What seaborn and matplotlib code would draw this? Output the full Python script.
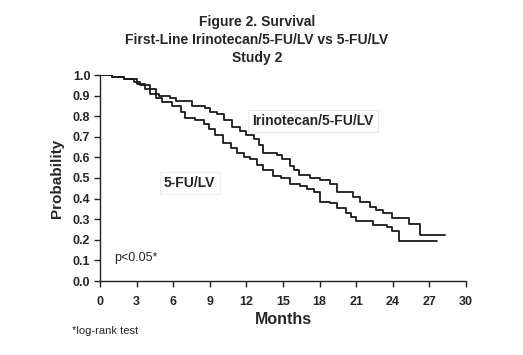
import matplotlib
matplotlib.use("Agg")
import matplotlib.pyplot as plt
import seaborn as sns
import pandas as pd

# ---- data ----
iri_months = [0, 1.0, 2.0, 2.8, 3.3, 4.1, 4.8, 5.7, 6.2, 7.5, 8.6, 9.0, 9.6, 10.2, 10.8, 11.5, 12.0, 12.6, 13.0, 13.4,
              14.5, 14.9, 15.6, 15.9, 16.3, 17.2, 18.0, 18.85, 19.4, 20.7, 21.3, 22.1, 22.6, 23.2, 23.9, 25.3, 26.2, 28.3]
iri_surv = [1.0, 0.99, 0.98, 0.965, 0.95, 0.91, 0.90, 0.89, 0.875, 0.85, 0.84, 0.82, 0.81, 0.78, 0.75, 0.73, 0.71, 0.69, 0.66, 0.62,
            0.61, 0.59, 0.56, 0.54, 0.515, 0.50, 0.49, 0.47, 0.43, 0.41, 0.385, 0.36, 0.345, 0.33, 0.305, 0.275, 0.225, 0.225]

fu_months = [0, 1.0, 2.0, 3.0, 3.7, 4.6, 5.1, 5.9, 6.6, 7.0, 7.8, 8.5, 8.9, 9.4, 10.1, 10.7, 11.2, 11.8, 12.3, 12.9,
             13.4, 14.2, 14.8, 15.6, 16.4, 17.0, 17.5, 18.0, 18.85, 19.4, 20.2, 20.6, 21.0, 22.4, 23.5, 23.9, 24.5, 27.6]
fu_surv = [1.0, 0.99, 0.98, 0.956, 0.93, 0.89, 0.87, 0.85, 0.82, 0.79, 0.78, 0.76, 0.74, 0.71, 0.67, 0.645, 0.62, 0.60, 0.59, 0.565,
           0.54, 0.51, 0.50, 0.47, 0.46, 0.445, 0.43, 0.385, 0.38, 0.355, 0.33, 0.31, 0.29, 0.272, 0.264, 0.244, 0.194, 0.194]

groups = ["Irinotecan/5-FU/LV", "5-FU/LV"]
x_ticks = list(range(0, 31, 3))
y_ticks = [i / 10 for i in range(11)]

df = pd.concat([
    pd.DataFrame({"Months": iri_months, "Probability": iri_surv, "Group": groups[0]}),
    pd.DataFrame({"Months": fu_months, "Probability": fu_surv, "Group": groups[1]}),
])

sns.set_style("white")
plt.rcParams["font.family"] = ["Liberation Sans", "DejaVu Sans"]

fig = plt.figure(figsize=(5.23, 3.55), dpi=100)
ax = fig.add_axes([100 / 523, 1 - 281 / 355, 366 / 523, 206 / 355])

sns.lineplot(data=df, x="Months", y="Probability", hue="Group", units="Group", estimator=None,
             drawstyle="steps-post", palette=["#1a1a1a", "#1a1a1a"], linewidth=1.3, legend=False, ax=ax)

ax.set_xlim(0, 30)
ax.set_ylim(0, 1.0)
ax.set_xticks(x_ticks)
ax.set_yticks(y_ticks)
ax.set_xticklabels([str(t) for t in x_ticks], fontsize=9, fontweight="bold")
ax.set_yticklabels([f"{v:.1f}" for v in y_ticks], fontsize=9, fontweight="bold")
ax.tick_params(axis="both", direction="out", length=4, width=1, color="#222222",
               bottom=True, left=True)
ax.tick_params(axis="x", pad=7)
ax.tick_params(axis="y", pad=3)
for s in ["top", "right"]:
    ax.spines[s].set_visible(False)
for s in ["left", "bottom"]:
    ax.spines[s].set_color("#222222")
    ax.spines[s].set_linewidth(1.0)

ax.set_xlabel("Months", fontsize=11.5, fontweight="bold", labelpad=3)
ax.set_ylabel("Probability", fontsize=11, fontweight="bold", labelpad=6)

ax.text(12.5, 0.777, groups[0], fontsize=10, fontweight="bold", va="center", ha="left",
        bbox=dict(fc="white", ec="#e8e8e8", lw=0.8, pad=3))
ax.text(5.25, 0.477, groups[1], fontsize=10, fontweight="bold", va="center", ha="left",
        bbox=dict(fc="white", ec="#f0f0f0", lw=0.8, pad=3))
ax.text(1.2, 0.112, "p<0.05*", fontsize=9, va="center", ha="left")

fig.text(257 / 523, 1 - 22 / 355, "Figure 2. Survival", fontsize=10, fontweight="bold", ha="center", va="center")
fig.text(257 / 523, 1 - 40 / 355, "First-Line Irinotecan/5-FU/LV vs 5-FU/LV", fontsize=10, fontweight="bold",
         ha="center", va="center")
fig.text(257 / 523, 1 - 58 / 355, "Study 2", fontsize=10, fontweight="bold", ha="center", va="center")
fig.text(72 / 523, 1 - 331 / 355, "*log-rank test", fontsize=8, ha="left", va="center")

fig.savefig("out.png", dpi=100)
